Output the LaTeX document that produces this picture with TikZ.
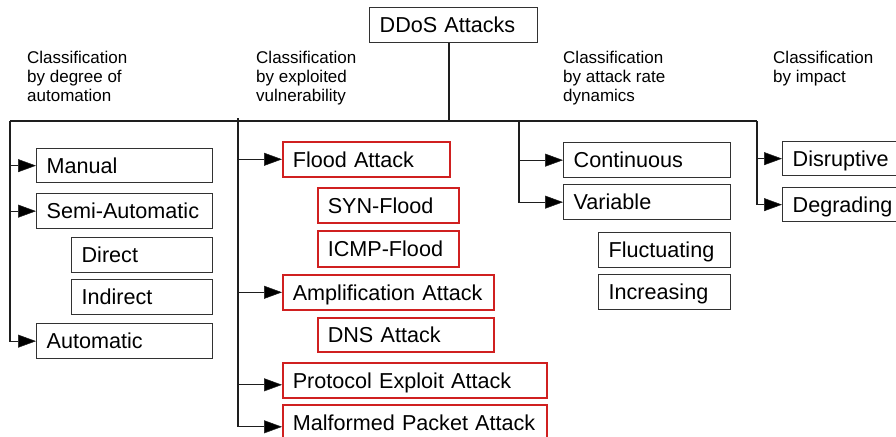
\documentclass[tikz,border=0pt]{standalone}
\usepackage{fontspec}
\setmainfont{Liberation Sans}
\usetikzlibrary{arrows.meta}
\definecolor{boxline}{RGB}{50,50,50}
\definecolor{redline}{RGB}{208,32,32}
\definecolor{conn}{RGB}{30,30,30}
\begin{document}
\begin{tikzpicture}[x=1pt,y=-1pt,
  box/.style={draw=boxline, line width=1.3pt, anchor=north west, inner xsep=10pt, inner ysep=0pt,
    align=left, font=\fontsize{21.6}{26}\selectfont, text height=15.5pt, text depth=0pt},
  redbox/.style={box, draw=redline, line width=1.6pt},
  lbl/.style={anchor=north west, inner sep=0pt, align=left, font=\fontsize{17}{19}\selectfont},
  conline/.style={draw=conn, line width=1.3pt},
  arr/.style={conline, -{Triangle[length=18pt,width=13pt,fill=black,line width=0.5pt]}}
]
\clip (0,0) rectangle (896,436);
\useasboundingbox (0,0) rectangle (896,436);
\fill[white] (0,0) rectangle (896,436);

% root
\node[box, text width=148pt, minimum height=35pt] (ddos) at (369,7) {DDoS Attacks};

% labels
\node[lbl] (l1) at (27,50.6) {Classification\\by degree of\\automation};
\node[lbl] (l2) at (256,50.6) {Classification\\by exploited\\vulnerability};
\node[lbl] (l3) at (563,50.6) {Classification\\by attack rate\\dynamics};
\node[lbl] (l4) at (773,50.6) {Classification\\by impact};

% automation column
\node[box, text width=156pt, minimum height=34pt] (manual) at (36,148) {Manual};
\node[box, text width=156pt, minimum height=35pt] (semi) at (36,193) {Semi-Automatic};
\node[box, text width=121pt, minimum height=35pt] (direct) at (71,237) {Direct};
\node[box, text width=121pt, minimum height=35pt] (indirect) at (71,279) {Indirect};
\node[box, text width=156pt, minimum height=35pt] (automatic) at (36,323) {Automatic};

% vulnerability column
\node[redbox, text width=147pt, minimum height=35pt] (flood) at (282,141) {Flood Attack};
\node[redbox, text width=121pt, minimum height=35pt] (syn) at (317,187) {SYN-Flood};
\node[redbox, text width=121pt, minimum height=36pt] (icmp) at (317,230) {ICMP-Flood};
\node[redbox, text width=191pt, minimum height=35pt] (ampl) at (282,274) {Amplification Attack};
\node[redbox, text width=156pt, minimum height=34pt] (dns) at (317,317) {DNS Attack};
\node[redbox, text width=244pt, minimum height=35pt] (protocol) at (282,362) {Protocol Exploit Attack};
\node[redbox, text width=244pt, minimum height=35pt] (malformed) at (282,404) {Malformed Packet Attack};

% rate column
\node[box, text width=147pt, minimum height=35pt] (cont) at (563,142) {Continuous};
\node[box, text width=147pt, minimum height=35pt] (variable) at (563,184) {Variable};
\node[box, text width=112pt, minimum height=35pt] (fluct) at (598,232) {Fluctuating};
\node[box, text width=112pt, minimum height=35pt] (incr) at (598,274) {Increasing};

% impact column
\node[box, text width=120pt, minimum height=34pt] (disr) at (782,141) {Disruptive};
\node[box, text width=120pt, minimum height=34pt] (degr) at (782,187) {Degrading};

% trunk coordinates
\coordinate (hL) at (10,121);
\coordinate (hR) at (757,121);
\coordinate (rootj) at (449,121);
\coordinate (vtop) at (238,118);
\coordinate (ratej) at (519,121);

% connectors
\draw[conline] (ddos.south -| rootj) -- (rootj);
\draw[conline] (hL) -- (hR);

\draw[arr] (hL) |- (automatic.west);
\draw[arr] (hL |- manual.west) -- (manual.west);
\draw[arr] (hL |- semi.west) -- (semi.west);

\draw[arr] (vtop) |- ([yshift=-4.5pt]malformed.west);
\draw[arr] (vtop |- flood.west) -- (flood.west);
\draw[arr] (vtop |- ampl.west) -- (ampl.west);
\draw[arr] ([yshift=-4.5pt]protocol.west -| vtop) -- ([yshift=-4.5pt]protocol.west);

\draw[arr] (ratej) |- (variable.west);
\draw[arr] (ratej |- cont.west) -- (cont.west);

\draw[arr] (hR) |- (degr.west);
\draw[arr] (hR |- disr.west) -- (disr.west);
\end{tikzpicture}
\end{document}
